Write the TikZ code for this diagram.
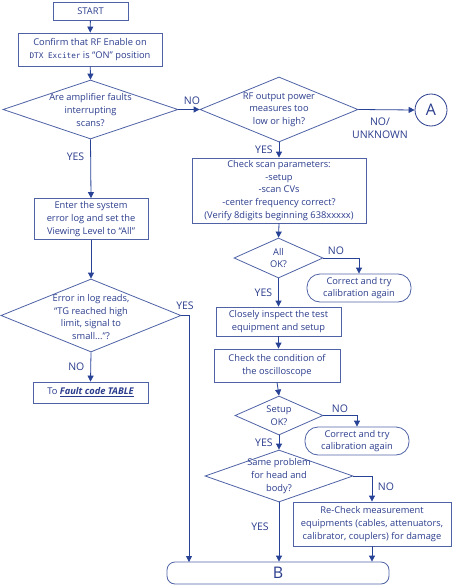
\documentclass[tikz,border=0pt]{standalone}
\usepackage{fontspec}
\setmainfont{Open Sans}
\usetikzlibrary{shapes.geometric,arrows.meta}
\definecolor{lnblue}{RGB}{78,98,165}
\definecolor{txblue}{RGB}{42,60,140}
\definecolor{arblue}{RGB}{40,66,150}
\tikzset{
  box/.style={draw=lnblue,line width=0.8pt,text=txblue,font=\fontsize{9.3}{12.7}\selectfont,
    align=center,inner sep=0pt},
  dia/.style={draw=lnblue,line width=0.8pt,shape=diamond,inner sep=0pt,aspect=2},
  dtext/.style={text=txblue,font=\fontsize{9.3}{12.7}\selectfont,align=center,inner sep=0pt},
  lbl/.style={text=txblue,font=\fontsize{10.5}{13}\selectfont,inner sep=0pt,align=center},
  arr/.style={draw=arblue,line width=0.8pt,-{Triangle[length=6pt,width=6pt]}},
}
\begin{document}
\begin{tikzpicture}[x=1pt,y=-1pt]
  \useasboundingbox (0,0) rectangle (455,586);
  % left column
  \node[box,minimum width=75pt,minimum height=18pt] (start) at (90.5,11) {START};
  \node[box,minimum width=144pt,minimum height=33pt] (confirm) at (90,49.5)
    {Confirm that RF Enable on\\{\fontspec{DejaVu Sans Mono}\fontsize{7.7}{12}\selectfont DTX Exciter} is ``ON'' position};
  \node[dia,minimum width=175pt,minimum height=59pt] (faults) at (90.5,109.5) {};
  \node[dtext] (faultst) at (90.5,110) {Are amplifier faults\\interrupting\\scans?};
  \node[box,minimum width=114pt,minimum height=41pt] (errlog) at (91,219)
    {Enter the system\\error log and set the\\Viewing Level to ``All''};
  \node[dia,minimum width=180pt,minimum height=73pt] (tg) at (91,315.5) {};
  \node[dtext] (tgt) at (91,317) {Error in log reads,\\``TG reached high\\limit, signal to\\small...''?};
  \node[box,minimum width=115pt,minimum height=21pt] (table) at (90.5,392.5)
    {To \textbf{\textit{\underline{Fault code TABLE}}}};
  % right column
  \node[dia,minimum width=158pt,minimum height=65pt] (rfpow) at (279,109.5) {};
  \node[dtext] (rfpowt) at (279,109.5) {RF output power\\measures too\\low or high?};
  \node[draw=txblue,line width=0.8pt,circle,minimum size=32pt,inner sep=0pt,text=txblue,
    font=\fontsize{16}{16}\selectfont] (A) at (431,110) {A};
  \node[box,minimum width=174pt,minimum height=65pt] (scan) at (279,190.5)
    {Check scan parameters:\\-setup\\-scan CVs\\-center frequency correct?\\(Verify 8digits beginning 638xxxxx)};
  \node[dia,minimum width=89pt,minimum height=40pt] (allok) at (278.5,258) {};
  \node[dtext] (allokt) at (278.5,258) {All\\OK?};
  \node[box,rounded corners=13pt,minimum width=104pt,minimum height=28pt] (fix1) at (359,288)
    {Correct and try\\calibration again};
  \node[box,minimum width=125pt,minimum height=29pt] (inspect) at (278.5,321.5)
    {Closely inspect the test\\equipment and setup};
  \node[box,minimum width=126pt,minimum height=33pt] (scope) at (277,365.5)
    {Check the condition of\\the oscilloscope};
  \node[dia,minimum width=88pt,minimum height=39pt] (setup) at (279,415.5) {};
  \node[dtext] (setupt) at (279,415.5) {Setup\\OK?};
  \node[box,rounded corners=13pt,minimum width=104pt,minimum height=28pt] (fix2) at (357,441)
    {Correct and try\\calibration again};
  \node[dia,minimum width=148pt,minimum height=52pt] (same) at (279,476) {};
  \node[dtext] (samet) at (279,476) {Same problem\\for head and\\body?};
  \node[box,minimum width=158pt,minimum height=44pt] (recheck) at (372,524)
    {Re-Check measurement\\equipments (cables, attenuators,\\calibrator, couplers) for damage};
  \node[box,rounded corners=8pt,minimum width=222pt,minimum height=22pt,
    font=\fontsize{16}{16}\selectfont] (B) at (278,573) {B};
  % connectors
  \coordinate (bleft) at (189,562);
  \draw[arr] (start) -- (confirm);
  \draw[arr] (confirm) -- (faults.north);
  \draw[arr] (faults.east) -- (rfpow.west) node[lbl,midway,above=4pt,xshift=3pt] (no1) {NO};
  \draw[arr] (faults.south) -- (errlog.north) node[lbl,pos=0.3,left=6pt] (yes1) {YES};
  \draw[arr] (errlog.south) -- (tg.north);
  \draw[arr] (tg.south) -- (table.north) node[lbl,midway,left=6pt] (no2) {NO};
  \draw[arr] (tg.east) -| (bleft);
  \node[lbl] (yes2) at (185,306) {YES};
  \draw[arr] (rfpow.east) -- (A.west);
  \node[lbl] (nounk) at (380,128) {NO/\\UNKNOWN};
  \draw[arr] (rfpow.south) -- (scan.north) node[lbl,midway,left=6pt] (yes3) {YES};
  \draw[arr] (scan.south) -- (allok.north);
  \draw[arr] (allok.east) -| (fix1.north);
  \node[lbl] (no3) at (336,251) {NO};
  \draw[arr] (allok.south) -- (inspect.north) node[lbl,midway,left=6pt] (yes4) {YES};
  \draw[arr] (inspect.south) -- (scope.north -| inspect.south);
  \draw[arr] (scope.south) -- (setup.north);
  \draw[arr] (setup.east) -| (fix2.north);
  \node[lbl] (no4) at (340,409) {NO};
  \draw[arr] (setup.south) -- (same.north) node[lbl,midway,left=6pt] (yes5) {YES};
  \draw[arr] (same.east) -| (recheck.north);
  \node[lbl] (no5) at (386,487) {NO};
  \draw[arr] (same.south) -- (B.north -| same.south);
  \node[lbl] (yes6) at (260,527) {YES};
  \draw[arr] (recheck.south) -- (B.north -| recheck.south);
\end{tikzpicture}
\end{document}
